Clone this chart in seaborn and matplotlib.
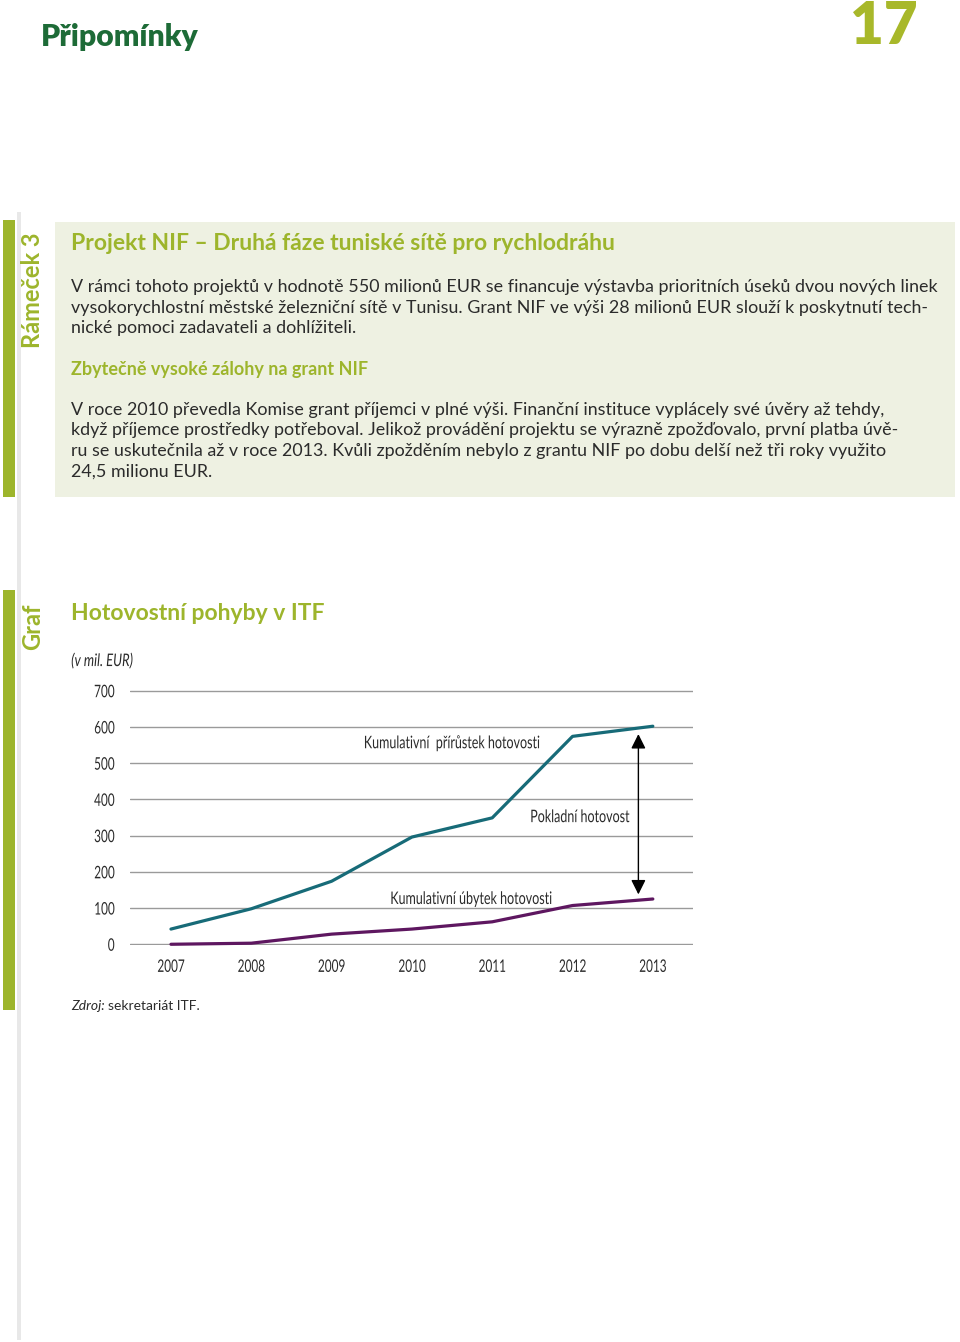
import matplotlib
matplotlib.use("Agg")
import matplotlib.pyplot as plt
import matplotlib.patches as mpatches
import matplotlib.patheffects as pe
from matplotlib.transforms import Affine2D
import pandas as pd
import seaborn as sns

# chart data (mil. EUR)
years = [2007, 2008, 2009, 2010, 2011, 2012, 2013]
cum_increase = [42, 98, 174, 296, 349, 574, 602]
cum_decrease = [0, 3, 28, 42, 62, 107, 125]
y_ticks = [0, 100, 200, 300, 400, 500, 600, 700]

W, H = 960, 1342
sns.set_theme(style="white")
plt.rcParams["font.family"] = ["Lato", "DejaVu Sans"]

LIME = "#9db52c"
DGREEN = "#1d6b37"
TEXT = "#2b2b2b"


class Squeeze(pe.AbstractPathEffect):
    """Narrow the glyphs horizontally (no condensed font installed)."""

    def __init__(self, sx=0.7, anchor=0.5):
        super().__init__()
        self.sx = sx
        self.anchor = anchor

    def draw_path(self, renderer, gc, tpath, affine, rgbFace=None):
        ext = tpath.get_extents()
        pivot = ext.x0 + ext.width * self.anchor
        t = Affine2D().translate(-pivot, 0).scale(self.sx, 1).translate(pivot, 0) + affine
        renderer.draw_path(gc, tpath, t, rgbFace)


fig = plt.figure(figsize=(W / 100, H / 100), dpi=100)
fig.patch.set_facecolor("white")


def fx(x):
    return x / W


def fy(y):
    return 1 - y / H


def rect(x0, y0, x1, y1, color):
    fig.patches.append(mpatches.Rectangle((fx(x0), fy(y1)), fx(x1) - fx(x0), fy(y0) - fy(y1),
                                          transform=fig.transFigure, facecolor=color,
                                          edgecolor="none", zorder=0))


def txt(x, y, s, **kw):
    return fig.text(fx(x), fy(y), s, **kw)


# header
txt(41, 37, "Připomínky", fontsize=21.7, fontweight="heavy", color=DGREEN, va="center")
txt(918, 27, "17", fontsize=42, fontweight="heavy", color="#a8b82a", va="center", ha="right")

# side rules
rect(17, 212, 21, 1340, "#e8e8e8")
rect(3, 220, 15, 497, LIME)
rect(3, 590, 15, 1010, LIME)

# box
rect(55, 222, 955, 497, "#eef1e2")
txt(33, 290, "Rámeček 3", fontsize=17, fontweight="bold", color=LIME, rotation=90, ha="center", va="center")
txt(71, 244, "Projekt NIF – Druhá fáze tuniské sítě pro rychlodráhu", fontsize=16.5, fontweight="bold",
    color=LIME, va="center")
para1 = ["V rámci tohoto projektů v hodnotě 550 milionů EUR se financuje výstavba prioritních úseků dvou nových linek",
         "vysokorychlostní městské železniční sítě v Tunisu. Grant NIF ve výši 28 milionů EUR slouží k poskytnutí tech-",
         "nické pomoci zadavateli a dohlížiteli."]
for i, line in enumerate(para1):
    txt(71, 287 + i * 20.5, line, fontsize=12.9, color=TEXT, va="center")
txt(71, 369, "Zbytečně vysoké zálohy na grant NIF", fontsize=13, fontweight="bold", color=LIME, va="center")
para2 = ["V roce 2010 převedla Komise grant příjemci v plné výši. Finanční instituce vyplácely své úvěry až tehdy,",
         "když příjemce prostředky potřeboval. Jelikož provádění projektu se výrazně zpožďovalo, první platba úvě-",
         "ru se uskutečnila až v roce 2013. Kvůli zpožděním nebylo z grantu NIF po dobu delší než tři roky využito",
         "24,5 milionu EUR."]
for i, line in enumerate(para2):
    txt(71, 410 + i * 20.5, line, fontsize=12.9, color=TEXT, va="center")

# chart block
txt(33, 627, "Graf", fontsize=17, fontweight="bold", color=LIME, rotation=90, ha="center", va="center")
txt(71, 614, "Hotovostní pohyby v ITF", fontsize=16.5, fontweight="bold", color=LIME, va="center")
txt(71, 661, "(v mil. EUR)", fontsize=12.5, style="italic", color=TEXT, va="center",
    path_effects=[Squeeze(0.75, 0)])

ax = fig.add_axes([fx(130), fy(945), fx(693) - fx(130), fy(690) - fy(945)])
ax.set_facecolor("none")
df = pd.DataFrame({"year": years * 2,
                   "value": cum_increase + cum_decrease,
                   "series": ["inc"] * len(years) + ["dec"] * len(years)})
sns.lineplot(data=df, x="year", y="value", hue="series", palette={"inc": "#176b78", "dec": "#5e1760"},
             linewidth=2.3, legend=False, ax=ax, clip_on=False)
ax.set_xlim(2006.49, 2013.5)
ax.set_ylim(-2, 702)
ax.set_yticks(y_ticks)
ax.set_xticks(years)
ax.yaxis.grid(True, color="#9a9a9a", linewidth=1)
ax.set_axisbelow(True)
for s in ax.spines.values():
    s.set_visible(False)
ax.tick_params(length=0)
ax.tick_params(axis="y", pad=11)
ax.tick_params(axis="x", pad=10)
for lab in ax.get_yticklabels():
    lab.set_fontsize(12.5)
    lab.set_color(TEXT)
    lab.set_path_effects([Squeeze(0.68, 1)])
for lab in ax.get_xticklabels():
    lab.set_fontsize(12.5)
    lab.set_color(TEXT)
    lab.set_path_effects([Squeeze(0.68, 0.5)])
ax.set_xlabel("")
ax.set_ylabel("")

# double arrow between the two cumulative lines
ax.annotate("", xy=(2012.82, 588), xytext=(2012.82, 130),
            arrowprops=dict(arrowstyle="<|-|>", color="black", lw=1.0, mutation_scale=22))
sq = [Squeeze(0.72, 0.5)]
ax.text(2010.5, 555, "Kumulativní  přírůstek hotovosti", ha="center", va="center",
        fontsize=12.5, color=TEXT, path_effects=sq)
ax.text(2012.09, 351, "Pokladní hotovost", ha="center", va="center", fontsize=12.5, color=TEXT,
        path_effects=sq)
ax.text(2010.74, 125, "Kumulativní úbytek hotovosti", ha="center", va="center",
        fontsize=12.5, color=TEXT, path_effects=sq)

# source
txt(71, 1006, "Zdroj:", fontsize=10, style="italic", color=TEXT, va="center")
txt(108, 1006, "sekretariát ITF.", fontsize=10, color=TEXT, va="center")

fig.savefig("out.png", dpi=100)
